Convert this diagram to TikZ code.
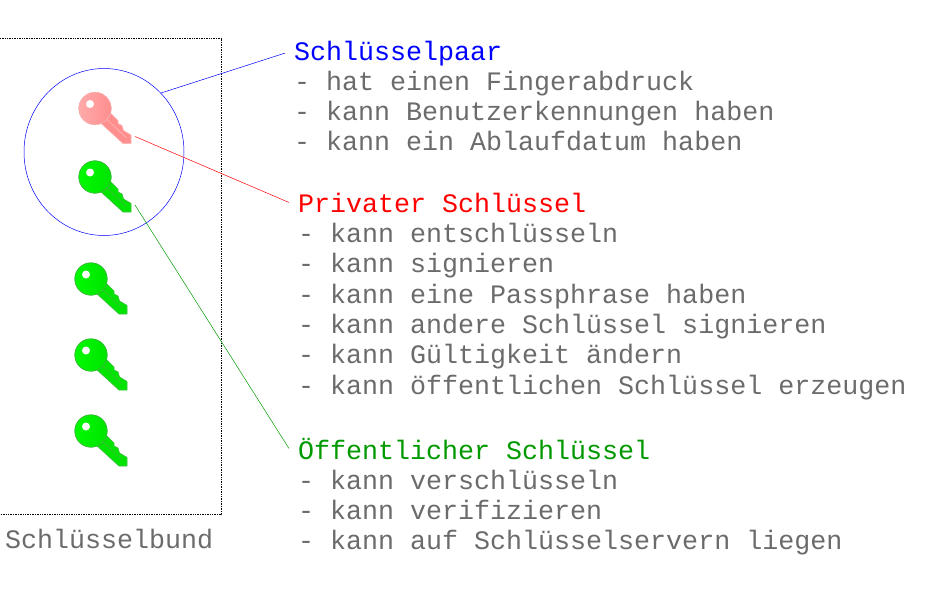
\documentclass[tikz,border=0pt]{standalone}
\usepackage{fontspec}
\setmainfont{Liberation Mono}
\usetikzlibrary{shapes.geometric}
\definecolor{textgray}{HTML}{6B6B6B}
\definecolor{keygreen}{HTML}{00E400}
\definecolor{keygreenrim}{HTML}{3CC03C}
\definecolor{keygreenlight}{HTML}{00FA00}
\definecolor{keypink}{HTML}{FF8E8E}
\definecolor{keypinkrim}{HTML}{FFB4B4}
\definecolor{keypinklight}{HTML}{FFAAAA}
\definecolor{headgreen}{HTML}{009900}
\tikzset{
  headtext/.style={font=\fontsize{26.67}{30.3}\selectfont, anchor=base west, inner xsep=9pt, inner ysep=0pt},
  bodytext/.style={font=\fontsize{26.67}{30.3}\selectfont, text=textgray, align=left, anchor=north west, inner sep=0pt},
  pics/schluessel/.style n args={3}{code={
    \coordinate (-tip) at (40,28);
    \filldraw[fill=#1, draw=#2, line width=0.7pt, line join=round]
      (15,4) -- (23,12) -- (23,15) -- (27,17) -- (28.5,22) -- (36,26.5)
      -- (36,35) -- (28,35) -- (4,13) -- cycle;
    \draw[#2, line width=0.7pt] (11,10) -- (31,29);
    \filldraw[draw=#2, line width=0.7pt, left color=#3, right color=#1] (0,0) circle (16.2);
    \fill[white] (-5,-4.5) circle (4);
  }}
}
\begin{document}
\begin{tikzpicture}[x=1pt,y=-1pt]
  \useasboundingbox (0,0) rectangle (930,613);
  % Schluesselbund
  \draw[densely dotted, line width=0.7pt] (0,38.5) -- (221,38.5) -- (221,514.5) -- (0,514.5);
  \node[bodytext, anchor=base west] (bundText) at (5,548) {Schlüsselbund};
  \node[draw=blue, line width=0.5pt, shape=ellipse, minimum width=160pt, minimum height=167pt, inner sep=0pt] (paarRing) at (104,152) {};
  % keys
  \pic (privKey) at (95,108.5) {schluessel={keypink}{keypinkrim}{keypinklight}};
  \pic (pubKey) at (95,177) {schluessel={keygreen}{keygreenrim}{keygreenlight}};
  \foreach \y in {279,355,431}
    \pic at (91,\y) {schluessel={keygreen}{keygreenrim}{keygreenlight}};
  % Schluesselpaar
  \node[headtext, text=blue] (paarHead) at (285,60) {Schlüsselpaar};
  \node[bodytext] (paarBody) at (294,70.5) {- hat einen Fingerabdruck\\- kann Benutzerkennungen haben\\- kann ein Ablaufdatum haben};
  % Privater Schluessel
  \node[headtext, text=red] (privHead) at (289,212) {Privater Schlüssel};
  \node[bodytext] (privBody) at (298,223) {- kann entschlüsseln\\- kann signieren\\- kann eine Passphrase haben\\- kann andere Schlüssel signieren\\- kann Gültigkeit ändern\\- kann öffentlichen Schlüssel erzeugen};
  % Oeffentlicher Schluessel
  \node[headtext, text=headgreen] (pubHead) at (289,459) {Öffentlicher Schlüssel};
  \node[bodytext] (pubBody) at (298,469.5) {- kann verschlüsseln\\- kann verifizieren\\- kann auf Schlüsselservern liegen};
  % connectors
  \draw[blue, line width=0.5pt] (paarRing.46) -- (paarHead.west);
  \draw[red, line width=0.5pt] (privKey-tip) -- (privHead.west);
  \draw[headgreen, line width=0.5pt] (pubKey-tip) -- (pubHead.west);
\end{tikzpicture}
\end{document}
